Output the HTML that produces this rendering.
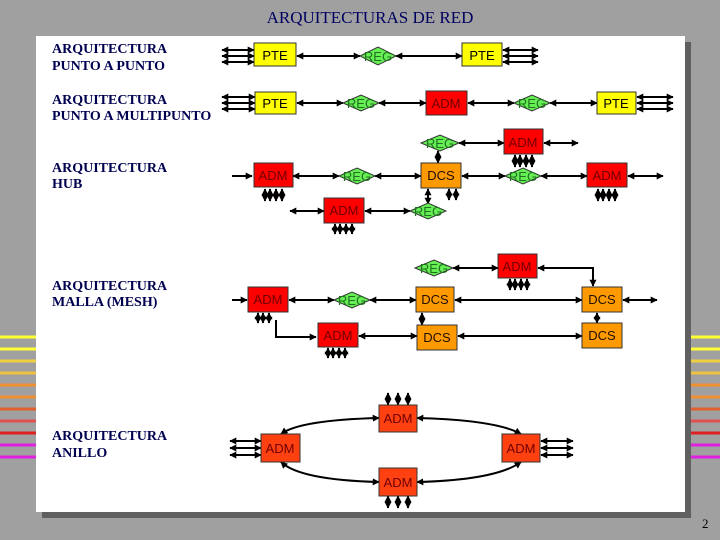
<!DOCTYPE html>
<html><head><meta charset="utf-8"><style>
html,body{margin:0;padding:0;background:#a0a0a0;}
svg{display:block}
</style></head><body>
<svg width="720" height="540" viewBox="0 0 720 540" xmlns="http://www.w3.org/2000/svg">
<defs>
<marker id="a" viewBox="0 0 10 10" refX="9" refY="5" markerWidth="7" markerHeight="7" orient="auto-start-reverse" markerUnits="userSpaceOnUse"><path d="M0,0L10,5L0,10z" fill="#000"/></marker>
</defs>
<rect width="720" height="540" fill="#a0a0a0"/>
<g stroke-width="3">
<line x1="0" x2="36" y1="337" y2="337" stroke="#ffff33"/><line x1="686" x2="720" y1="337" y2="337" stroke="#ffff33"/>
<line x1="0" x2="36" y1="349" y2="349" stroke="#ffff33"/><line x1="686" x2="720" y1="349" y2="349" stroke="#ffff33"/>
<line x1="0" x2="36" y1="361" y2="361" stroke="#f0d040"/><line x1="686" x2="720" y1="361" y2="361" stroke="#f0d040"/>
<line x1="0" x2="36" y1="373" y2="373" stroke="#f0c040"/><line x1="686" x2="720" y1="373" y2="373" stroke="#f0c040"/>
<line x1="0" x2="36" y1="385" y2="385" stroke="#f09030"/><line x1="686" x2="720" y1="385" y2="385" stroke="#f09030"/>
<line x1="0" x2="36" y1="397" y2="397" stroke="#f09030"/><line x1="686" x2="720" y1="397" y2="397" stroke="#f09030"/>
<line x1="0" x2="36" y1="409" y2="409" stroke="#e06030"/><line x1="686" x2="720" y1="409" y2="409" stroke="#e06030"/>
<line x1="0" x2="36" y1="421" y2="421" stroke="#e05050"/><line x1="686" x2="720" y1="421" y2="421" stroke="#e05050"/>
<line x1="0" x2="36" y1="433" y2="433" stroke="#e02020"/><line x1="686" x2="720" y1="433" y2="433" stroke="#e02020"/>
<line x1="0" x2="36" y1="445" y2="445" stroke="#e020e0"/><line x1="686" x2="720" y1="445" y2="445" stroke="#e020e0"/>
<line x1="0" x2="36" y1="457" y2="457" stroke="#e020e0"/><line x1="686" x2="720" y1="457" y2="457" stroke="#e020e0"/>
</g>
<rect x="42" y="42" width="649" height="476" fill="#606060"/>
<rect x="36" y="36" width="649" height="476" fill="#fff"/>
<text x="370" y="23" text-anchor="middle" font-family="Liberation Serif, serif" font-size="17" fill="#000060">ARQUITECTURAS DE RED</text>
<text x="702" y="528" font-family="Liberation Serif, serif" font-size="13" fill="#000">2</text>
<g font-family="Liberation Serif, serif" font-size="14" font-weight="bold" fill="#000050">
<text x="52" y="53">ARQUITECTURA</text><text x="52" y="70">PUNTO A PUNTO</text>
<text x="52" y="104">ARQUITECTURA</text><text x="52" y="120">PUNTO A MULTIPUNTO</text>
<text x="52" y="172">ARQUITECTURA</text><text x="52" y="188">HUB</text>
<text x="52" y="290">ARQUITECTURA</text><text x="52" y="306">MALLA (MESH)</text>
<text x="52" y="440">ARQUITECTURA</text><text x="52" y="457">ANILLO</text>
</g>
<g stroke="#000" stroke-width="2" fill="none" marker-start="url(#a)" marker-end="url(#a)">
<line x1="222" y1="50" x2="254" y2="50"/><line x1="222" y1="56" x2="254" y2="56"/><line x1="222" y1="62" x2="254" y2="62"/>
<line x1="297" y1="56" x2="360" y2="56"/><line x1="396" y1="56" x2="462" y2="56"/>
<line x1="503" y1="50" x2="538" y2="50"/><line x1="503" y1="56" x2="538" y2="56"/><line x1="503" y1="62" x2="538" y2="62"/>
<line x1="222" y1="97" x2="255" y2="97"/><line x1="222" y1="103" x2="255" y2="103"/><line x1="222" y1="109" x2="255" y2="109"/>
<line x1="297" y1="103" x2="343" y2="103"/><line x1="379" y1="103" x2="426" y2="103"/>
<line x1="468" y1="103" x2="514" y2="103"/><line x1="550" y1="103" x2="597" y2="103"/>
<line x1="637" y1="97" x2="673" y2="97"/><line x1="637" y1="103" x2="673" y2="103"/><line x1="637" y1="109" x2="673" y2="109"/>
<line x1="459" y1="143" x2="504" y2="143"/><line x1="544" y1="143" x2="578" y2="143"/>
<line x1="293" y1="176" x2="339" y2="176"/><line x1="375" y1="176" x2="421" y2="176"/>
<line x1="462" y1="176" x2="505" y2="176"/><line x1="541" y1="176" x2="587" y2="176"/>
<line x1="628" y1="176" x2="663" y2="176"/>
<line x1="290" y1="211" x2="324" y2="211"/><line x1="365" y1="211" x2="410" y2="211"/>
<line x1="438" y1="151" x2="438" y2="163"/><line x1="428" y1="189" x2="428" y2="204"/>
<line x1="453" y1="268" x2="498" y2="268"/>
<line x1="289" y1="300" x2="334" y2="300"/><line x1="370" y1="300" x2="416" y2="300"/>
<line x1="455" y1="300" x2="582" y2="300"/><line x1="623" y1="300" x2="657" y2="300"/>
<line x1="359" y1="336" x2="417" y2="336"/><line x1="458" y1="336" x2="582" y2="336"/>
<line x1="422" y1="313" x2="422" y2="325"/><line x1="597" y1="313" x2="597" y2="323"/>
<path d="M379,418 Q300,420 281,434"/><path d="M417,418 Q496,420 521,434"/>
<path d="M281,462 Q300,480 379,482"/><path d="M521,462 Q496,480 417,482"/>
<line x1="230" y1="441" x2="261" y2="441"/><line x1="230" y1="448" x2="261" y2="448"/><line x1="230" y1="455" x2="261" y2="455"/>
<line x1="541" y1="441" x2="573" y2="441"/><line x1="541" y1="448" x2="573" y2="448"/><line x1="541" y1="455" x2="573" y2="455"/>
<line x1="388" y1="393" x2="388" y2="405"/><line x1="398" y1="393" x2="398" y2="405"/><line x1="408" y1="393" x2="408" y2="405"/>
<line x1="388" y1="496" x2="388" y2="508"/><line x1="398" y1="496" x2="398" y2="508"/><line x1="408" y1="496" x2="408" y2="508"/>
</g>
<g stroke="#000" stroke-width="2" fill="none">
<line x1="232" y1="176" x2="252" y2="176" marker-end="url(#a)"/>
<line x1="232" y1="300" x2="247" y2="300" marker-end="url(#a)"/>
<polyline points="538,268 593,268 593,286" marker-end="url(#a)" marker-start="url(#a)"/>
<polyline points="276,320 276,337 316,337" marker-end="url(#a)"/>
</g>
<g stroke="#000" stroke-width="2" marker-start="url(#a)" marker-end="url(#a)">
<line x1="265" y1="189" x2="265" y2="201"/><line x1="270" y1="189" x2="270" y2="201"/><line x1="276" y1="189" x2="276" y2="201"/><line x1="282" y1="189" x2="282" y2="201"/>
<line x1="335" y1="224" x2="335" y2="234"/><line x1="340" y1="224" x2="340" y2="234"/><line x1="346" y1="224" x2="346" y2="234"/><line x1="352" y1="224" x2="352" y2="234"/>
<line x1="515" y1="155" x2="515" y2="167"/><line x1="520" y1="155" x2="520" y2="167"/><line x1="526" y1="155" x2="526" y2="167"/><line x1="532" y1="155" x2="532" y2="167"/>
<line x1="598" y1="189" x2="598" y2="201"/><line x1="603" y1="189" x2="603" y2="201"/><line x1="609" y1="189" x2="609" y2="201"/><line x1="615" y1="189" x2="615" y2="201"/>
<line x1="449" y1="189" x2="449" y2="200"/><line x1="456" y1="189" x2="456" y2="200"/>
<line x1="510" y1="279" x2="510" y2="290"/><line x1="515" y1="279" x2="515" y2="290"/><line x1="521" y1="279" x2="521" y2="290"/><line x1="527" y1="279" x2="527" y2="290"/>
<line x1="258" y1="313" x2="258" y2="323"/><line x1="263" y1="313" x2="263" y2="323"/><line x1="269" y1="313" x2="269" y2="323"/>
<line x1="328" y1="348" x2="328" y2="358"/><line x1="333" y1="348" x2="333" y2="358"/><line x1="339" y1="348" x2="339" y2="358"/><line x1="345" y1="348" x2="345" y2="358"/>
</g>
<g stroke="#333" stroke-width="1" font-family="Liberation Sans, sans-serif" font-size="13" text-anchor="middle">
<rect x="254" y="43" width="42" height="23" fill="#ffff00"/><text x="275" y="60" fill="#000" stroke="none">PTE</text>
<rect x="462" y="43" width="40" height="23" fill="#ffff00"/><text x="482" y="60" fill="#000" stroke="none">PTE</text>
<rect x="255" y="92" width="41" height="22" fill="#ffff00"/><text x="275" y="108" fill="#000" stroke="none">PTE</text>
<rect x="597" y="92" width="39" height="22" fill="#ffff00"/><text x="616" y="108" fill="#000" stroke="none">PTE</text>
<g fill="#ff0000">
<rect x="426" y="91" width="41" height="24"/><rect x="504" y="129" width="39" height="25"/>
<rect x="254" y="163" width="39" height="24"/><rect x="587" y="163" width="40" height="24"/>
<rect x="324" y="198" width="40" height="25"/><rect x="498" y="254" width="39" height="24"/>
<rect x="248" y="287" width="40" height="25"/><rect x="318" y="323" width="40" height="24"/>
</g>
<g fill="#ff4010">
<rect x="379" y="405" width="38" height="27"/><rect x="261" y="434" width="39" height="28"/>
<rect x="502" y="434" width="38" height="28"/><rect x="379" y="468" width="38" height="28"/>
</g>
<g fill="#ff9900">
<rect x="421" y="163" width="40" height="25"/><rect x="416" y="287" width="38" height="25"/>
<rect x="582" y="287" width="40" height="25"/><rect x="417" y="325" width="40" height="25"/>
<rect x="582" y="323" width="40" height="25"/>
</g>
<g fill="#66ee55">
<polygon points="360,56 378,47 396,56 378,65"/><polygon points="343,103 361,95 379,103 361,111"/>
<polygon points="514,103 532,95 550,103 532,111"/><polygon points="421,143 440,135 459,143 440,151"/>
<polygon points="339,176 357,168 375,176 357,184"/><polygon points="505,176 523,168 541,176 523,184"/>
<polygon points="410,211 428,203 446,211 428,219"/><polygon points="415,268 434,260 453,268 434,276"/>
<polygon points="334,300 352,292 370,300 352,308"/>
</g>
<g stroke="none" fill="#700000">
<text x="446" y="108">ADM</text><text x="523" y="147">ADM</text><text x="273" y="180">ADM</text>
<text x="607" y="180">ADM</text><text x="344" y="215">ADM</text><text x="517" y="271">ADM</text>
<text x="268" y="304">ADM</text><text x="338" y="340">ADM</text>
<text x="398" y="423">ADM</text><text x="280" y="453">ADM</text><text x="521" y="453">ADM</text><text x="398" y="487">ADM</text>
</g>
<g stroke="none" fill="#201000">
<text x="441" y="180">DCS</text><text x="435" y="304">DCS</text><text x="602" y="304">DCS</text>
<text x="437" y="342">DCS</text><text x="602" y="340">DCS</text>
</g>
<g stroke="none" fill="#207020">
<text x="378" y="61">REG</text><text x="361" y="108">REG</text><text x="532" y="108">REG</text>
<text x="440" y="148">REG</text><text x="357" y="181">REG</text><text x="523" y="181">REG</text>
<text x="428" y="216">REG</text><text x="434" y="273">REG</text><text x="352" y="305">REG</text>
</g>
</g>
</svg>
</body></html>
